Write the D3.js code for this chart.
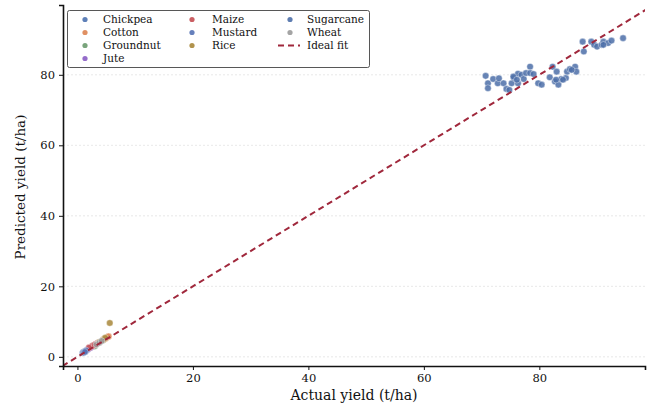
<!DOCTYPE html>
<html><head><meta charset="utf-8">
<script src="https://cdn.jsdelivr.net/npm/d3@7"></script>
<style>body{margin:0;background:#fff}svg{display:block}text{font-family:"DejaVu Serif",serif;fill:#111}</style>
</head><body><svg id="c" width="653" height="405"></svg>
<script>
const crops = ["Chickpea","Cotton","Groundnut","Jute","Maize","Mustard","Rice","Sugarcane","Wheat"];
const colors = ["#4c72b0","#dd8452","#6a9a6e","#8a5cc4","#c44e52","#5572b5","#a8873a","#4c6fa8","#9a9a9a"];
const xTicks = [0,20,40,60,80];
const yTicks = [0,20,40,60,80];
// [actual, predicted] per crop
const chickpea = [[0.9,1.1],[1.2,1.5],[1.0,1.3],[1.4,1.6]];
const cotton = [[4.5,5.0],[5.2,5.6],[4.9,5.2],[5.4,5.8]];
const groundnut = [[2.5,2.8],[2.8,3.2],[3.0,3.0]];
const jute = [[2.0,2.4],[2.4,2.8],[2.2,2.5],[1.8,2.1]];
const maize = [[2.6,3.1],[3.2,3.6],[3.5,3.9],[3.0,3.4],[2.0,2.6]];
const mustard = [[1.1,1.2],[1.5,1.8],[1.3,1.4]];
const rice = [[3.8,4.2],[4.5,4.8],[5.6,9.6],[4.8,5.4]];
const sugarcane = [[70.7,79.7],[71.1,77.6],[71.1,76.2],[72.0,78.8],[72.8,77.6],[73.8,77.6],[74.3,76.0],[74.8,75.7],[75.2,77.6],[75.6,79.1],[76.3,80.3],[76.3,77.6],[76.9,80.0],[77.3,78.8],[77.7,80.5],[78.4,82.3],[78.4,80.5],[79.8,77.6],[80.4,77.2],[81.8,79.3],[82.3,82.3],[82.7,78.1],[83.0,80.9],[83.3,77.2],[83.8,78.8],[84.6,79.1],[84.8,80.9],[85.3,81.6],[86.2,82.3],[86.4,80.9],[87.5,89.4],[87.7,86.6],[89.0,89.4],[89.5,88.5],[90.0,88.0],[90.8,88.5],[91.1,89.4],[91.9,89.0],[92.5,89.7],[94.5,90.4],[75.5,79.5],[76.1,78.6],[82.9,78.6],[85.6,81.4],[84.1,78.6],[91.1,88.5],[79.0,80.2],[73.0,79.0]];
const wheat = [[3.3,3.5],[3.8,4.0],[4.2,4.5]];
const seriesData = [chickpea,cotton,groundnut,jute,maize,mustard,rice,sugarcane,wheat];

const svg = d3.select("#c");
const W=653,H=405,m={l:63,r:8,t:5,b:39};
const x = d3.scaleLinear().domain([-2.5,98.3]).range([m.l,W-m.r]);
const y = d3.scaleLinear().domain([-2.6,99.8]).range([H-m.b,m.t]);

// grid
svg.append("g").selectAll("line").data(yTicks).join("line")
  .attr("x1",m.l).attr("x2",W-m.r).attr("y1",d=>y(d)).attr("y2",d=>y(d))
  .attr("stroke","#d8d8d8").attr("stroke-width",0.6).attr("stroke-dasharray","2,2");

const clip = svg.append("clipPath").attr("id","pc").append("rect")
  .attr("x",m.l).attr("y",m.t).attr("width",W-m.l-m.r).attr("height",H-m.t-m.b);

const pts = svg.append("g");
seriesData.forEach((s,i)=>{
  pts.selectAll(null).data(s).join("circle")
    .attr("cx",d=>x(d[0])).attr("cy",d=>y(d[1])).attr("r",3.3)
    .attr("fill",colors[i]).attr("fill-opacity",0.85)
    .attr("stroke","#fff").attr("stroke-width",0.4);
});

// ideal fit
svg.append("line").attr("clip-path","url(#pc)")
  .attr("x1",x(-2.6)).attr("y1",y(-2.6)).attr("x2",x(99.8)).attr("y2",y(99.8))
  .attr("stroke","#a0283c").attr("stroke-width",2).attr("stroke-dasharray","6,4");

// axes
const xa = svg.append("g").attr("transform",`translate(0,${H-m.b})`)
  .call(d3.axisBottom(x).tickValues(xTicks).tickSize(4).tickPadding(4));
const ya = svg.append("g").attr("transform",`translate(${m.l},0)`)
  .call(d3.axisLeft(y).tickValues(yTicks).tickSize(4).tickPadding(4));
[xa,ya].forEach(a=>{
  a.select(".domain").attr("stroke","#111").attr("stroke-width",1.6);
  a.selectAll(".tick line").attr("stroke","#111").attr("stroke-width",1);
  a.selectAll(".tick text").attr("font-size",11.5).attr("font-family","DejaVu Serif").attr("fill","#222");
});

svg.append("text").attr("x",354).attr("y",400).attr("text-anchor","middle")
  .attr("font-size",14).text("Actual yield (t/ha)");
svg.append("text").attr("transform",`translate(25,187) rotate(-90)`)
  .attr("text-anchor","middle").attr("font-size",13.5).text("Predicted yield (t/ha)");

// legend
const lg = svg.append("g");
lg.append("rect").attr("x",67.5).attr("y",10.5).attr("width",302).attr("height",57).attr("rx",2)
  .attr("fill","#fff").attr("fill-opacity",0.9).attr("stroke","#444").attr("stroke-width",0.9);
const colX=[85,192,290], textX=[103,212,307], rowY=[19.5,32.5,45.5,58.5];
const entries = crops.map((c,i)=>({label:c,color:colors[i],type:"dot"}));
entries.push({label:"Ideal fit",color:"#a0283c",type:"line"});
const colOf = [0,0,0,0,1,1,1,2,2,2], rowOf=[0,1,2,3,0,1,2,0,1,2];
entries.forEach((e,i)=>{
  const cx=colX[colOf[i]], cy=rowY[rowOf[i]];
  if(e.type==="dot") lg.append("circle").attr("cx",cx).attr("cy",cy).attr("r",2.6).attr("fill",e.color).attr("fill-opacity",0.9);
  else lg.append("line").attr("x1",cx-12).attr("x2",cx+10).attr("y1",cy).attr("y2",cy)
    .attr("stroke",e.color).attr("stroke-width",2).attr("stroke-dasharray","6,4");
  lg.append("text").attr("x",textX[colOf[i]]).attr("y",cy+3.5).attr("font-size",10.5).text(e.label);
});
</script></body></html>
